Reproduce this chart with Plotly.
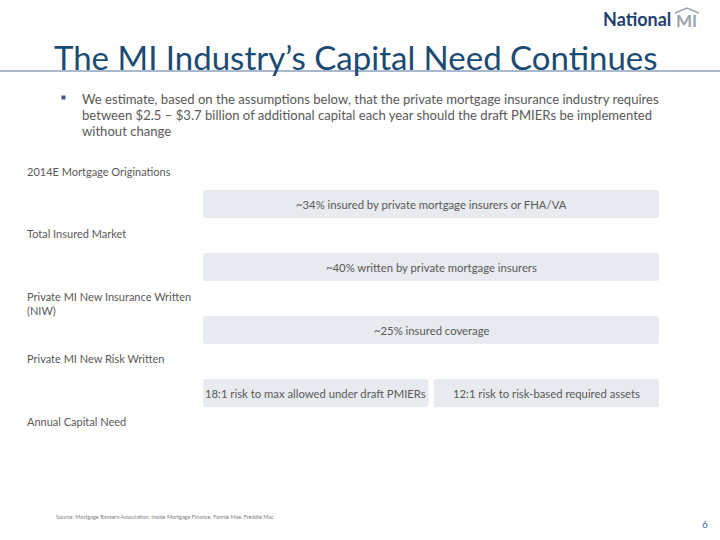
import plotly.graph_objects as go

# ---- data ----
title = "The MI Industry’s Capital Need Continues"
bullet_lines = [
    "We estimate, based on the assumptions below, that the private mortgage insurance industry requires",
    "between $2.5 – $3.7 billion of additional capital each year should the draft PMIERs be implemented",
    "without change",
]
stage_labels = [
    "2014E Mortgage Originations",
    "Total Insured Market",
    "Private MI New Insurance Written<br>(NIW)",
    "Private MI New Risk Written",
    "Annual Capital Need",
]
step_texts = [
    ["~34% insured by private mortgage insurers or FHA/VA"],
    ["~40% written by private mortgage insurers"],
    ["~25% insured coverage"],
    ["18:1 risk to max allowed under draft PMIERs", "12:1 risk to risk-based required assets"],
]
source_text = "Source: Mortgage Bankers Association; Inside Mortgage Finance, Fannie Mae. Freddie Mac"
page_number = "6"

FONT = "Lato"
GREY = "#595959"
BLUE = "#1B4B72"
BOX = "#E7EAEF"


def rounded_rect(x0, y0, x1, y1, r=3):
    return (f"M {x0+r} {y0} L {x1-r} {y0} Q {x1} {y0} {x1} {y0+r} L {x1} {y1-r} "
            f"Q {x1} {y1} {x1-r} {y1} L {x0+r} {y1} Q {x0} {y1} {x0} {y1-r} "
            f"L {x0} {y0+r} Q {x0} {y0} {x0+r} {y0} Z")


fig = go.Figure()
shapes = []
ann = []

# title
ann.append(dict(x=356, y=57, text=title, showarrow=False, xanchor="center", yanchor="middle",
                font=dict(family=FONT, size=33, color=BLUE)))
shapes.append(dict(type="line", x0=0, x1=720, y0=71, y1=71, line=dict(color="#8DA0BC", width=1.5)))

# logo
ann.append(dict(x=673, y=19, text="<b>National</b>", showarrow=False, xanchor="right", yanchor="middle",
                font=dict(family=FONT, size=18, color="#1F3F6E")))
ann.append(dict(x=674, y=20, text="<b>MI</b>", showarrow=False, xanchor="left", yanchor="middle",
                font=dict(family=FONT, size=17, color="#9AA3AE")))
shapes.append(dict(type="path", path="M 675 13 L 687 8 L 699 13", line=dict(color="#9AA3AE", width=1.5)))

# bullet
shapes.append(dict(type="rect", x0=61.5, x1=65.5, y0=95.5, y1=99.5, fillcolor="#3A5A80", line=dict(width=0)))
for i, line in enumerate(bullet_lines):
    ann.append(dict(x=80, y=99 + 16 * i, text=line, showarrow=False, xanchor="left", yanchor="middle",
                    font=dict(family=FONT, size=13.1, color=GREY)))

# stage labels
for i, lab in enumerate(stage_labels):
    yc = 171 + 62.5 * i + (7 if "<br>" in lab else 0)
    ann.append(dict(x=25, y=yc, text=lab, showarrow=False, xanchor="left", yanchor="middle", align="left",
                    font=dict(family=FONT, size=11, color=GREY)))

# boxes
X0, X1, GAP = 203, 659, 5
for i, texts in enumerate(step_texts):
    yc = 204 + 63 * i
    n = len(texts)
    w = (X1 - X0 - GAP * (n - 1)) / n
    for j, t in enumerate(texts):
        bx0 = X0 + j * (w + GAP)
        bx1 = bx0 + w
        shapes.append(dict(type="path", path=rounded_rect(bx0, yc - 14, bx1, yc + 14),
                           fillcolor=BOX, line=dict(width=0), layer="below"))
        ann.append(dict(x=(bx0 + bx1) / 2, y=yc, text=t, showarrow=False, xanchor="center", yanchor="middle",
                        font=dict(family=FONT, size=11.3, color=GREY)))

# source
ann.append(dict(x=54, y=517, text=source_text, showarrow=False, xanchor="left", yanchor="middle",
                font=dict(family=FONT, size=5.5, color="#7F7F7F")))
ann.append(dict(x=710, y=524, text=page_number, showarrow=False, xanchor="right", yanchor="middle",
                font=dict(family=FONT, size=10, color="#2E6AA8")))

fig.update_layout(
    width=720, height=540, margin=dict(l=0, r=0, t=0, b=0),
    paper_bgcolor="white", plot_bgcolor="white",
    xaxis=dict(range=[0, 720], visible=False, fixedrange=True),
    yaxis=dict(range=[540, 0], visible=False, fixedrange=True),
    shapes=shapes, annotations=ann, showlegend=False,
)
fig.write_html("out.html", config={"displayModeBar": False},
               post_script="document.body.style.margin='0';document.body.style.overflow='hidden';")
